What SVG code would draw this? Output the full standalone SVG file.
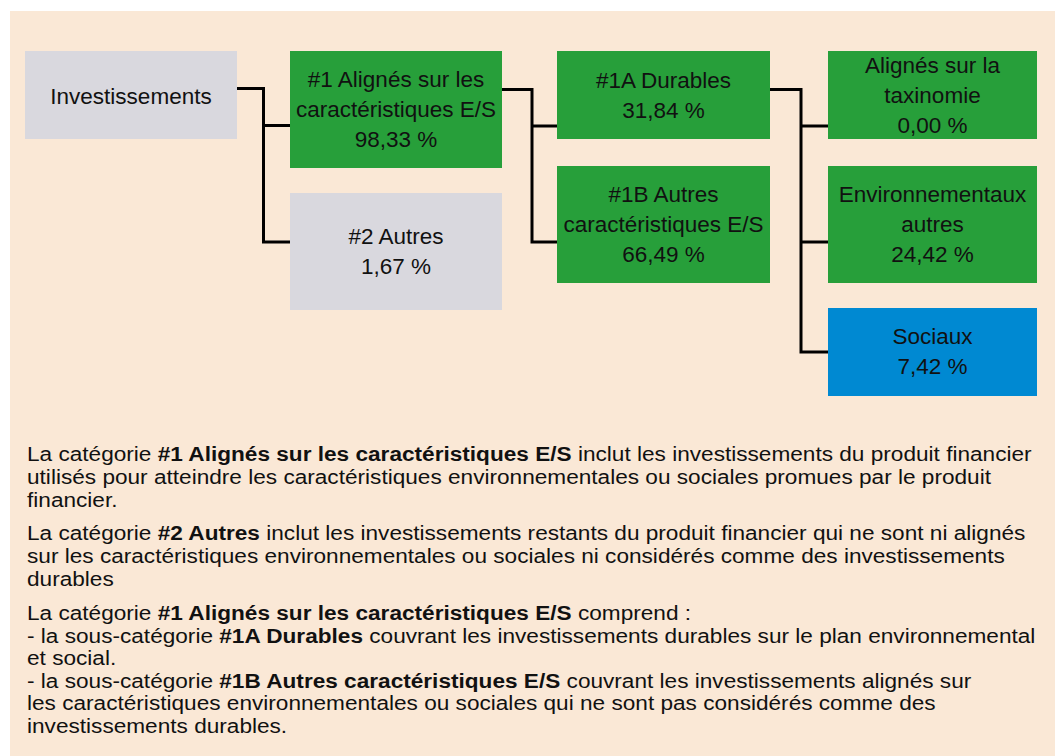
<svg xmlns="http://www.w3.org/2000/svg" width="1055" height="756" viewBox="0 0 1055 756">
<style>
.bg{fill:#fae8d6}
.gray{fill:#d9d8de}
.green{fill:#279f3a}
.blue{fill:#0089d2}
.lbl{font-family:"Liberation Sans",Arial,sans-serif;font-size:22.5px;fill:#111;text-anchor:middle}
.conn{fill:none;stroke:#000;stroke-width:3}
.para{font-family:"Liberation Sans",Arial,sans-serif;font-size:19.4px;fill:#111}
.b{font-weight:bold}
</style>
<rect x="0" y="0" width="1055" height="756" fill="#fff"/>
<rect class="bg" x="10" y="11" width="1045" height="745"/>
<g id="connectors">
<path class="conn" d="M237,88.5 H263.5 V242 H290 M263.5,125.5 H290"/>
<path class="conn" d="M502,89.5 H532 V242 H557 M532,126 H557"/>
<path class="conn" d="M770,89.5 H801 V352 H828 M801,126 H828 M801,242 H828"/>
</g>
<g id="investissements">
<rect class="gray" x="25" y="51" width="212" height="88"/>
<text class="lbl" x="131" y="103.5">Investissements</text>
</g>
<g id="n1">
<rect class="green" x="290" y="51" width="212" height="117"/>
<text class="lbl" x="396" y="87">#1 Alignés sur les</text>
<text class="lbl" x="396" y="117">caractéristiques E/S</text>
<text class="lbl" x="396" y="147">98,33 %</text>
</g>
<g id="n2">
<rect class="gray" x="290" y="193" width="212" height="117"/>
<text class="lbl" x="396" y="244">#2 Autres</text>
<text class="lbl" x="396" y="274">1,67 %</text>
</g>
<g id="n1a">
<rect class="green" x="557" y="51" width="213" height="88"/>
<text class="lbl" x="663.5" y="88">#1A Durables</text>
<text class="lbl" x="663.5" y="118">31,84 %</text>
</g>
<g id="n1b">
<rect class="green" x="557" y="166" width="213" height="117"/>
<text class="lbl" x="663.5" y="202">#1B Autres</text>
<text class="lbl" x="663.5" y="232">caractéristiques E/S</text>
<text class="lbl" x="663.5" y="262">66,49 %</text>
</g>
<g id="taxo">
<rect class="green" x="828" y="51" width="209" height="88"/>
<text class="lbl" x="932.5" y="73">Alignés sur la</text>
<text class="lbl" x="932.5" y="103">taxinomie</text>
<text class="lbl" x="932.5" y="133">0,00 %</text>
</g>
<g id="env">
<rect class="green" x="828" y="166" width="209" height="117"/>
<text class="lbl" x="932.5" y="202">Environnementaux</text>
<text class="lbl" x="932.5" y="232">autres</text>
<text class="lbl" x="932.5" y="262">24,42 %</text>
</g>
<g id="sociaux">
<rect class="blue" x="828" y="308" width="209" height="88"/>
<text class="lbl" x="932.5" y="344">Sociaux</text>
<text class="lbl" x="932.5" y="374">7,42 %</text>
</g>
<g id="description" transform="translate(27 0) scale(1.166 1)">
<text class="para" x="0" y="461">La catégorie <tspan class="b">#1 Alignés sur les caractéristiques E/S</tspan> inclut les investissements du produit financier</text>
<text class="para" x="0" y="484">utilisés pour atteindre les caractéristiques environnementales ou sociales promues par le produit</text>
<text class="para" x="0" y="507">financier.</text>
<text class="para" x="0" y="540.5">La catégorie <tspan class="b">#2 Autres</tspan> inclut les investissements restants du produit financier qui ne sont ni alignés</text>
<text class="para" x="0" y="563">sur les caractéristiques environnementales ou sociales ni considérés comme des investissements</text>
<text class="para" x="0" y="586">durables</text>
<text class="para" x="0" y="620.5">La catégorie <tspan class="b">#1 Alignés sur les caractéristiques E/S</tspan> comprend :</text>
<text class="para" x="0" y="643">- la sous-catégorie <tspan class="b">#1A Durables</tspan> couvrant les investissements durables sur le plan environnemental</text>
<text class="para" x="0" y="665.5">et social.</text>
<text class="para" x="0" y="688">- la sous-catégorie <tspan class="b">#1B Autres caractéristiques E/S</tspan> couvrant les investissements alignés sur</text>
<text class="para" x="0" y="710.5">les caractéristiques environnementales ou sociales qui ne sont pas considérés comme des</text>
<text class="para" x="0" y="733">investissements durables.</text>
</g>
</svg>
